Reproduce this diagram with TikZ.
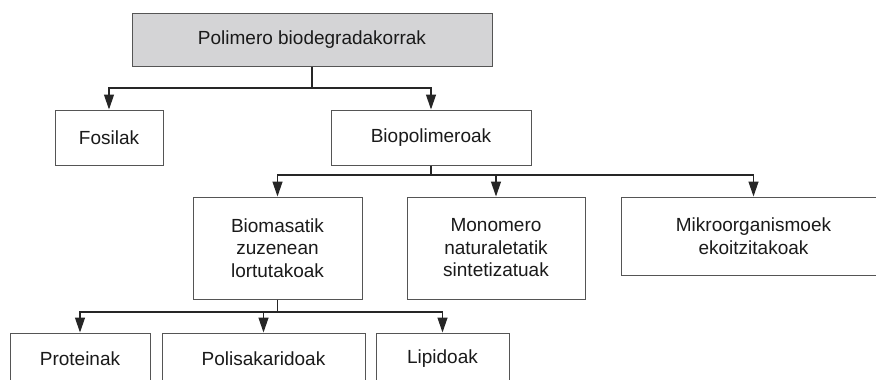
\documentclass[tikz,border=0pt]{standalone}
\usepackage{fontspec}
\setmainfont{Liberation Sans}
\usetikzlibrary{arrows.meta}
\definecolor{boxline}{HTML}{555555}
\definecolor{conline}{HTML}{262626}
\definecolor{topfill}{HTML}{D4D4D6}
\definecolor{txt}{HTML}{1A1A1A}
\tikzset{
  box/.style={draw=boxline, line width=1pt, fill=white, inner sep=0pt, align=center,
    text=txt, font=\fontsize{19}{22.5}\selectfont},
  conn/.style={draw=conline, line width=1.3pt},
  arr/.style={conn, -{Triangle[length=15pt,width=10pt]}}
}
\begin{document}
\begin{tikzpicture}[x=1pt,y=-1pt]
\useasboundingbox (0,0) rectangle (876,380);
\clip (0,0) rectangle (876,380);
\node[box, fill=topfill, minimum width=360pt, minimum height=53pt] (top) at (312,39.5) {Polimero biodegradakorrak};
\node[box, minimum width=108pt, minimum height=55pt] (fos) at (109,137.5) {Fosilak};
\node[box, minimum width=200pt, minimum height=55pt] (bio) at (431,137.5) {Biopolimeroak};
\node[box, minimum width=169pt, minimum height=102pt] (bm) at (277.5,248) {Biomasatik\\zuzenean\\lortutakoak};
\node[box, minimum width=178pt, minimum height=102pt] (mono) at (496,248) {Monomero\\naturaletatik\\sintetizatuak};
\node[box, minimum width=265pt, minimum height=78pt] (mik) at (753.5,236) {Mikroorganismoek\\ekoitzitakoak};
\node[box, minimum width=140pt, minimum height=51pt] (prot) at (80,358.5) {Proteinak};
\node[box, minimum width=203pt, minimum height=51pt] (poli) at (263.5,358.5) {Polisakaridoak};
\node[box, minimum width=133pt, minimum height=51pt] (lip) at (442.5,358.5) {Lipidoak};
% level 1
\coordinate (j1) at (top.south |- 0,88);
\draw[conn] (top.south) -- (j1);
\draw[arr] (j1) -| (fos.north);
\draw[arr] (j1) -| (bio.north);
% level 2
\coordinate (j2) at (bio.south |- 0,175);
\draw[conn] (bio.south) -- (j2);
\draw[arr] (j2) -| (bm.north);
\draw[arr] (j2) -| (mono.north);
\draw[arr] (j2) -| (mik.north);
% level 3
\coordinate (j3) at (bm.south |- 0,312);
\draw[conn] (bm.south) -- (j3);
\draw[arr] (j3) -| (prot.north);
\draw[arr] (j3) -| (poli.north);
\draw[arr] (j3) -| (lip.north);
\end{tikzpicture}
\end{document}
